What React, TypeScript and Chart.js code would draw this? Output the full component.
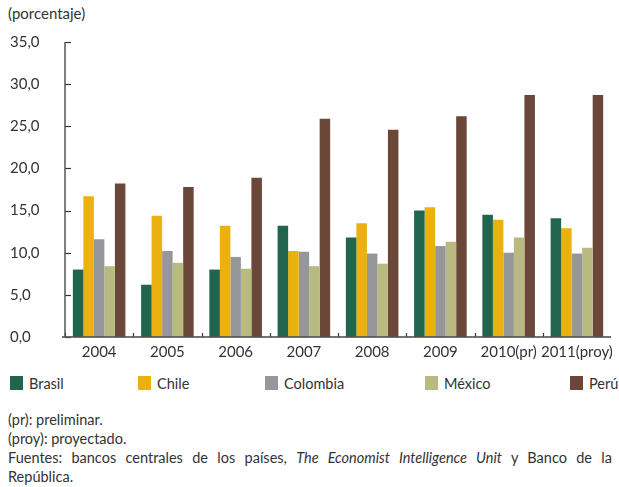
import React, { useEffect, useRef } from "react";
import { Chart, registerables } from "chart.js";

Chart.register(...registerables);

const categories = ["2004", "2005", "2006", "2007", "2008", "2009", "2010(pr)", "2011(proy)"];
const brasil = [8.0, 6.2, 8.0, 13.2, 11.8, 15.0, 14.5, 14.1];
const chile = [16.7, 14.4, 13.2, 10.2, 13.5, 15.4, 13.9, 12.9];
const colombia = [11.6, 10.2, 9.5, 10.1, 9.9, 10.8, 10.0, 9.9];
const mexico = [8.4, 8.8, 8.1, 8.4, 8.7, 11.3, 11.8, 10.6];
const peru = [18.2, 17.8, 18.9, 25.9, 24.6, 26.2, 28.7, 28.7];
const seriesNames = ["Brasil", "Chile", "Colombia", "México", "Perú"];
const seriesColors = ["#22654F", "#EAB10F", "#96979B", "#B9BA80", "#6B473A"];
const yTicks = [0, 5, 10, 15, 20, 25, 30, 35];

const FONT = "Lato, 'Open Sans', sans-serif";

const tickMarks = {
  id: "tickMarks",
  afterDraw(chart: any) {
    const ctx = chart.ctx;
    const x = chart.scales.x;
    const y = chart.scales.y;
    const area = chart.chartArea;
    ctx.save();
    ctx.strokeStyle = "#333";
    ctx.lineWidth = 1.2;
    yTicks.forEach((v) => {
      const py = Math.round(y.getPixelForValue(v)) + 0.5;
      ctx.beginPath();
      ctx.moveTo(area.left, py);
      ctx.lineTo(area.left + 6, py);
      ctx.stroke();
    });
    const n = categories.length;
    const half = (x.getPixelForValue(1) - x.getPixelForValue(0)) / 2;
    for (let i = 0; i < n; i++) {
      const px = Math.round(x.getPixelForValue(i) - half) + 0.5;
      ctx.beginPath();
      ctx.moveTo(px, area.bottom);
      ctx.lineTo(px, area.bottom - 4);
      ctx.stroke();
    }
    ctx.strokeStyle = "#555";
    ctx.lineWidth = 1.5;
    ctx.beginPath();
    ctx.moveTo(area.left, area.top);
    ctx.lineTo(area.left, area.bottom);
    ctx.stroke();
    ctx.strokeStyle = "rgba(80,80,80,0.8)";
    ctx.lineWidth = 2;
    ctx.beginPath();
    ctx.moveTo(area.left - 3, area.bottom);
    ctx.lineTo(area.right, area.bottom);
    ctx.stroke();
    ctx.restore();
  },
};

export default function App() {
  const ref = useRef<HTMLCanvasElement>(null);
  useEffect(() => {
    if (!ref.current) return;
    const data = [brasil, chile, colombia, mexico, peru];
    const chart = new Chart(ref.current, {
      type: "bar",
      data: {
        labels: categories,
        datasets: seriesNames.map((name, i) => ({
          label: name,
          data: data[i],
          backgroundColor: seriesColors[i],
          borderWidth: 0,
          categoryPercentage: 0.77,
          barPercentage: 1.0,
        })),
      },
      options: {
        animation: false,
        responsive: false,
        maintainAspectRatio: false,
        layout: { padding: { left: 10, right: 2, top: 42, bottom: 0 } },
        plugins: {
          legend: { display: false },
          tooltip: { enabled: false },
          title: { display: false },
        },
        scales: {
          x: {
            grid: { display: false, drawTicks: false },
            border: { display: false },
            ticks: {
              color: "#333",
              font: { family: FONT, size: 15 },
              padding: 6,
              maxRotation: 0,
              autoSkip: false,
            },
          },
          y: {
            min: 0,
            max: 35,
            afterFit: (s: any) => {
              s.width = 55;
            },
            afterBuildTicks: (s: any) => {
              s.ticks = yTicks.map((v) => ({ value: v }));
            },
            grid: { display: false, drawTicks: false },
            border: { display: false },
            ticks: {
              crossAlign: "far",
              color: "#333",
              font: { family: FONT, size: 15 },
              callback: (v: any) => Number(v).toFixed(1).replace(".", ","),
            },
          },
        },
      },
      plugins: [tickMarks],
    });
    return () => chart.destroy();
  }, []);

  const legendLeft = [10, 138, 265, 425, 570];
  return (
    <div style={{ position: "fixed", left: 0, top: 0, width: 619, height: 487, background: "#fff", fontFamily: FONT, color: "#333", overflow: "hidden" }}>
      <div style={{ position: "absolute", left: 8, top: 4, fontSize: 15 }}>(porcentaje)</div>
      <canvas ref={ref} width={619} height={367} style={{ position: "absolute", left: 0, top: 0, width: 619, height: 367 }} />
      {seriesNames.map((name, i) => (
        <div key={name} style={{ position: "absolute", left: legendLeft[i], top: 373, height: 20, display: "flex", alignItems: "center", fontSize: 14.5, whiteSpace: "nowrap" }}>
          <span style={{ display: "inline-block", width: 13, height: 14, background: seriesColors[i], marginRight: 6 }} />
          <span>{name}</span>
        </div>
      ))}
      <div style={{ position: "absolute", left: 8, top: 410, width: 604, fontSize: 14.5, lineHeight: "19px" }}>
        <div>(pr): preliminar.</div>
        <div>(proy): proyectado.</div>
        <div style={{ textAlign: "justify", textAlignLast: "justify" }}>
          Fuentes: bancos centrales de los países, <i>The Economist Intelligence Unit</i> y Banco de la
        </div>
        <div>República.</div>
      </div>
    </div>
  );
}
